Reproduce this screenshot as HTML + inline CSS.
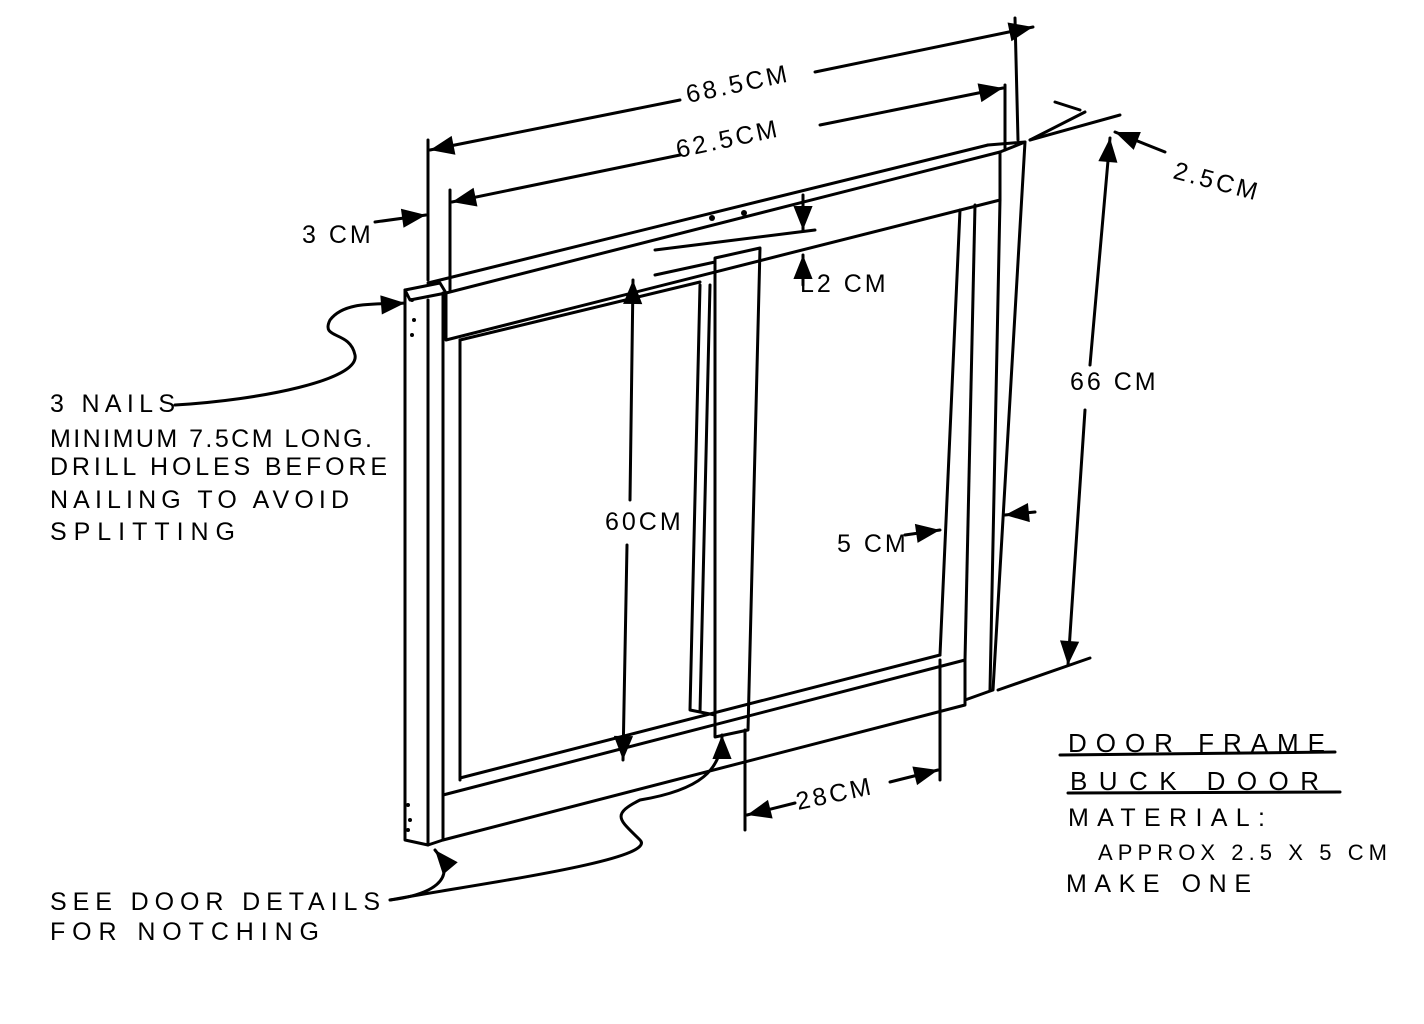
<!DOCTYPE html>
<html><head><style>
html,body{margin:0;padding:0;background:#fff}
svg{display:block}
text{font-family:"Liberation Sans",sans-serif;fill:#000;font-size:25px;letter-spacing:3px}
</style></head><body>
<svg width="1424" height="1024" viewBox="0 0 1424 1024" xmlns="http://www.w3.org/2000/svg">
<defs><marker id="a" viewBox="0 0 10 10" refX="10" refY="5" markerWidth="10" markerHeight="8" orient="auto-start-reverse"><path d="M0,1 L10,5 L0,9 z" fill="#000"/></marker></defs>
<g stroke="#000" stroke-width="3" fill="none" stroke-linejoin="round" stroke-linecap="round">
<path d="M405,290 L440,283 L446,293 L410,300 Z"/>
<path d="M405,290 L405,840 L428,845 L443,840 L443,293"/>
<path d="M428,300 L428,845"/>
<path d="M428,283 L988,145"/>
<path d="M446,293 L1000,152"/>
<path d="M446,293 L446,340 L1000,200 L1000,152"/>
<path d="M988,145 L1025,142 L1000,152"/>
<path d="M1025,142 L993,690 L965,700"/>
<path d="M1000,200 L990,690"/>
<path d="M975,205 L965,660"/>
<path d="M960,210 L940,655"/>
<path d="M460,340 L460,780"/>
<path d="M443,795 L965,660 L965,705 L443,840"/>
<path d="M460,778 L940,655"/>
<path d="M715,258 L760,248 L748,730 L715,737 Z"/>
<path d="M700,285 L690,710 L715,715"/>
<path d="M710,285 L700,712"/>
<path d="M655,275 L715,262"/>
<path d="M460,340 L700,282"/>
<path d="M428,140 L428,280"/>
<path d="M1015,18 L1018,140"/>
<path d="M430,150 L680,100" marker-start="url(#a)"/>
<path d="M815,72 L1033,27" marker-end="url(#a)"/>
<path d="M450,190 L450,290"/>
<path d="M1005,85 L1005,150"/>
<path d="M452,202 L680,155" marker-start="url(#a)"/>
<path d="M820,125 L1003,88" marker-end="url(#a)"/>
<path d="M375,222 L426,215" marker-end="url(#a)"/>
<path d="M655,250 L815,230"/>
<path d="M803,195 L803,230" marker-end="url(#a)"/>
<path d="M803,285 L803,255" marker-end="url(#a)"/>
<path d="M1030,140 L1120,115"/>
<path d="M1030,140 L1085,112"/>
<path d="M1055,102 L1080,110"/>
<path d="M1165,152 L1115,132" marker-end="url(#a)"/>
<path d="M1110,138 L1090,365" marker-start="url(#a)"/>
<path d="M1085,410 L1068,665" marker-end="url(#a)"/>
<path d="M998,690 L1090,658"/>
<path d="M633,280 L630,500" marker-start="url(#a)"/>
<path d="M627,545 L623,760" marker-end="url(#a)"/>
<path d="M905,535 L940,530" marker-end="url(#a)"/>
<path d="M1035,512 L1005,515" marker-end="url(#a)"/>
<path d="M745,730 L745,830"/>
<path d="M940,660 L940,780"/>
<path d="M747,815 L795,803" marker-start="url(#a)"/>
<path d="M890,782 L938,770" marker-end="url(#a)"/>
<path d="M175,405 C260,400 360,380 355,355 C350,330 320,340 330,320 C345,300 380,305 405,303" marker-end="url(#a)"/>
<path d="M390,900 C430,895 460,880 435,850" marker-end="url(#a)"/>
<path d="M390,900 C470,885 660,860 640,840 C620,820 610,815 640,800 C700,790 722,770 722,735" marker-end="url(#a)"/>
<path d="M1060,755 L1335,752"/>
<path d="M1068,793 L1340,792"/>
</g>
<g fill="#000"><circle cx="412" cy="300" r="2"/><circle cx="414" cy="320" r="2"/><circle cx="412" cy="335" r="2"/><circle cx="408" cy="805" r="2"/><circle cx="410" cy="820" r="2"/><circle cx="408" cy="830" r="2"/><circle cx="712" cy="218" r="3"/><circle cx="744" cy="213" r="3"/></g>
<text x="688" y="103" transform="rotate(-12 688 103)">68.5CM</text>
<text x="678" y="158" transform="rotate(-12 678 158)">62.5CM</text>
<text x="302" y="243">3 CM</text>
<text x="1172" y="178" transform="rotate(15 1172 178)">2.5CM</text>
<text x="800" y="292">L2 CM</text>
<text x="1070" y="390">66 CM</text>
<text x="605" y="530">60CM</text>
<text x="837" y="552">5 CM</text>
<text x="798" y="810" transform="rotate(-12 798 810)">28CM</text>
<text x="50" y="412" textLength="128">3 NAILS</text>
<text x="50" y="447" textLength="325">MINIMUM 7.5CM LONG.</text>
<text x="50" y="475" textLength="340">DRILL HOLES BEFORE</text>
<text x="50" y="508" textLength="302">NAILING TO AVOID</text>
<text x="50" y="540" textLength="188">SPLITTING</text>
<text x="50" y="910" textLength="333">SEE DOOR DETAILS</text>
<text x="50" y="940" textLength="272">FOR NOTCHING</text>
<text x="1068" y="752" textLength="260" style="font-size:26px">DOOR FRAME</text>
<text x="1070" y="790" textLength="252" style="font-size:26px">BUCK DOOR</text>
<text x="1068" y="826" textLength="200">MATERIAL:</text>
<text x="1098" y="860" textLength="292" style="font-size:22px">APPROX 2.5 X 5 CM</text>
<text x="1066" y="892" textLength="188">MAKE ONE</text>
</svg>
</body></html>
